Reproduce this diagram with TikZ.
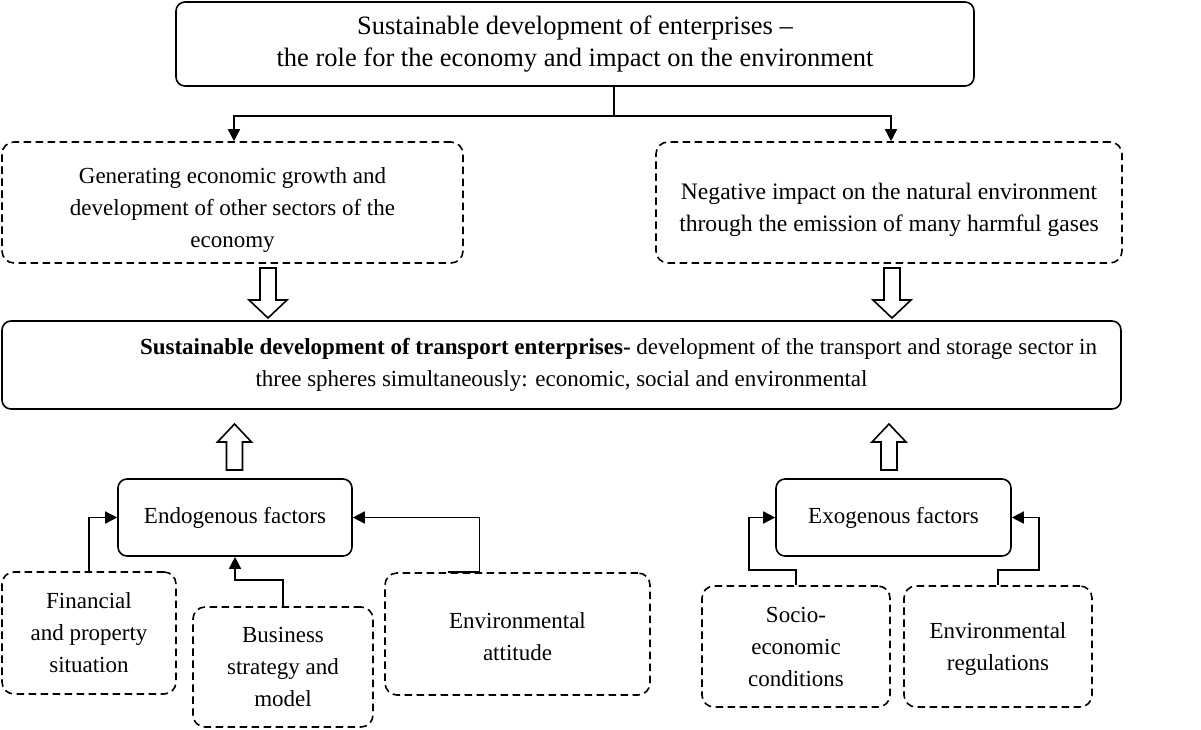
\documentclass[tikz,border=0pt]{standalone}
\usepackage{fontspec}
\setmainfont{Liberation Serif}
\usetikzlibrary{arrows.meta}
\tikzset{
  base/.style={draw, line width=1.6pt, align=center, inner sep=0pt,
    font=\fontsize{23}{32}\selectfont},
  solidbox/.style={base, rounded corners=9pt},
  dashbox/.style={base, rounded corners=12pt, dash pattern=on 7.5pt off 4.5pt},
  txt/.style={align=center, inner sep=0pt, font=\fontsize{23}{32}\selectfont},
  arr/.style={line width=1.6pt, -{Triangle[length=12pt,width=12pt]}},
  conn/.style={line width=1.6pt},
  hdown/.pic={\draw[line width=1.6pt, fill=white, line join=miter]
    (-8,0) -- (-8,32) -- (-19,32) -- (0,50) -- (19,32) -- (8,32) -- (8,0) -- cycle;},
  hup/.pic={\draw[line width=1.6pt, fill=white, line join=miter]
    (-8,0) -- (-8,-28) -- (-17,-28) -- (0,-46) -- (17,-28) -- (8,-28) -- (8,0) -- cycle;},
}
\begin{document}
\begin{tikzpicture}[x=1pt,y=-1pt]
\useasboundingbox (0,0) rectangle (1201,729);

\node[solidbox, minimum width=798pt, minimum height=84pt, font=\fontsize{26.5}{32}\selectfont] (top) at (575,44)
  {Sustainable development of enterprises --\\the role for the economy and impact on the environment};

\node[dashbox, minimum width=461pt, minimum height=121pt] (gen) at (232.5,202.5) {};
\node[txt] (genT) at (232.5,210)
  {Generating economic growth and\\development of other sectors of the\\economy};
\node[dashbox, minimum width=466pt, minimum height=121pt] (neg) at (889,202.5) {};
\node[txt, font=\fontsize{23.6}{32}\selectfont] (negT) at (889,210)
  {Negative impact on the natural environment\\through the emission of many harmful gases};

\node[solidbox, minimum width=1119pt, minimum height=88pt] (main) at (561.5,365)
  {\hspace*{114pt}{\bfseries Sustainable development of transport enterprises-} development of the transport and storage sector in\\three spheres simultaneously: economic, social and environmental};

\node[solidbox, minimum width=234pt, minimum height=77pt] (endo) at (235,517.5) {Endogenous factors};
\node[solidbox, minimum width=235pt, minimum height=77pt] (exo) at (893.5,517.5) {Exogenous factors};

\node[dashbox, minimum width=174pt, minimum height=122pt] (fin) at (89,633)
  {Financial\\and property\\situation};
\node[dashbox, minimum width=180pt, minimum height=120pt] (bus) at (283,667)
  {Business\\strategy and\\model};
\node[dashbox, minimum width=265pt, minimum height=122pt] (ea) at (517.5,634) {};
\node[txt] (eaT) at (517.5,637) {Environmental\\attitude};
\node[dashbox, minimum width=188pt, minimum height=121pt] (soc) at (796,646.5)
  {Socio-\\economic\\conditions};
\node[dashbox, minimum width=188pt, minimum height=121pt] (er) at (998,646.5) {};
\node[txt] (erT) at (998,648.5) {Environmental\\regulations};

% top connectors
\draw[conn] ([xshift=39pt]top.south) -- ++(0,29) coordinate (j);
\draw[arr] (j) -| ([xshift=1.5pt]gen.north);
\draw[arr] (j) -| ([xshift=2pt]neg.north);

% hollow arrows
\pic at (268,268) {hdown};
\pic at (892,268) {hdown};
\pic at (234.5,470) {hup};
\pic at (889,470) {hup};

% endogenous connectors
\draw[arr] (fin.north) |- (endo.west);
\draw[arr] (bus.north) -- ++(0,-26) -| (endo.south);
\draw[arr] ([xshift=-70pt]ea.north) -- ([xshift=-38pt]ea.north) |- (endo.east);

% exogenous connectors
\draw[arr] (soc.north) -- ++(0,-15) -| ([xshift=-26pt]exo.west) -- (exo.west);
\draw[arr] (er.north) -- ++(0,-15) -| ([xshift=27pt]exo.east) -- (exo.east);
\end{tikzpicture}
\end{document}
